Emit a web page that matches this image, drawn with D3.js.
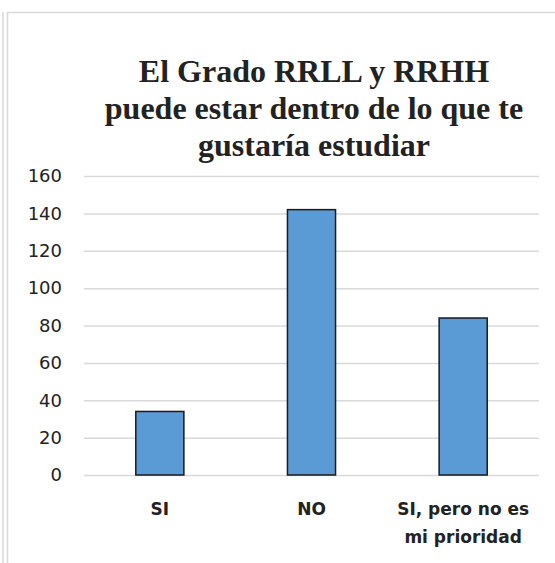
<!DOCTYPE html>
<html>
<head>
<meta charset="utf-8">
<script src="https://cdn.jsdelivr.net/npm/d3@7/dist/d3.min.js"></script>
<style>
  html, body { margin: 0; padding: 0; background: #fff; }
  svg { display: block; }
</style>
</head>
<body>
<svg id="chart" width="555" height="563"></svg>
<script>
const categories = ["SI", "NO", "SI, pero no es mi prioridad"];
const categoryLines = [["SI"], ["NO"], ["SI, pero no es", "mi prioridad"]];
const values = [34, 142, 84];
const yTicks = [0, 20, 40, 60, 80, 100, 120, 140, 160];
const titleLines = ["El Grado RRLL y RRHH", "puede estar dentro de lo que te", "gustaría estudiar"];

const svg = d3.select("#chart");
const W = 555, H = 563;
const margin = { left: 84, right: 16, top: 176, bottom: 88 };

// frames
svg.append("line").attr("x1", 3).attr("x2", 3).attr("y1", 12).attr("y2", H)
  .attr("stroke", "#d9d9d9").attr("stroke-width", 1.5);
svg.append("path").attr("d", `M7.5,${H} V12.5 H${W}`)
  .attr("fill", "none").attr("stroke", "#d9d9d9").attr("stroke-width", 1.5);

const x = d3.scaleBand().domain(categories)
  .range([margin.left, W - margin.right]).paddingInner(0.683).paddingOuter(0.3415);
const y = d3.scaleLinear().domain([0, 160]).range([H - margin.bottom, margin.top]);

// gridlines
svg.append("g")
  .attr("transform", `translate(${margin.left},0)`)
  .call(d3.axisLeft(y).tickValues(yTicks).tickSize(-(W - margin.right - margin.left)).tickFormat(""))
  .call(g => g.select(".domain").remove())
  .call(g => g.selectAll("line").attr("stroke", "#d9d9d9").attr("stroke-width", 1.5));

// y labels
svg.append("g")
  .attr("transform", `translate(${margin.left},0)`)
  .call(d3.axisLeft(y).tickValues(yTicks).tickSize(0).tickPadding(22))
  .call(g => g.select(".domain").remove())
  .call(g => g.selectAll("text").attr("fill", "#222").attr("font-size", 18)
    .attr("font-family", "'DejaVu Sans', sans-serif"));

// bars
svg.append("g").selectAll("rect").data(values).join("rect")
  .attr("x", (d, i) => x(categories[i]))
  .attr("width", x.bandwidth())
  .attr("y", d => y(d))
  .attr("height", d => y(0) - y(d))
  .attr("fill", "#5b9bd5")
  .attr("stroke", "#1a1a1a")
  .attr("stroke-width", 1.5);

// x labels
const xl = svg.append("g");
categoryLines.forEach((lines, i) => {
  const cx = x(categories[i]) + x.bandwidth() / 2;
  lines.forEach((t, j) => {
    xl.append("text")
      .attr("x", cx).attr("y", 515 + j * 28)
      .attr("text-anchor", "middle")
      .attr("font-family", "'DejaVu Sans', sans-serif")
      .attr("font-weight", "bold")
      .attr("font-size", 17)
      .attr("fill", "#222")
      .text(t);
  });
});

// title
titleLines.forEach((t, j) => {
  svg.append("text")
    .attr("x", 314).attr("y", 82 + j * 37)
    .attr("text-anchor", "middle")
    .attr("font-family", "'Liberation Serif', 'Times New Roman', serif")
    .attr("font-weight", "bold")
    .attr("font-size", 32)
    .attr("fill", "#222")
    .text(t);
});
</script>
</body>
</html>
